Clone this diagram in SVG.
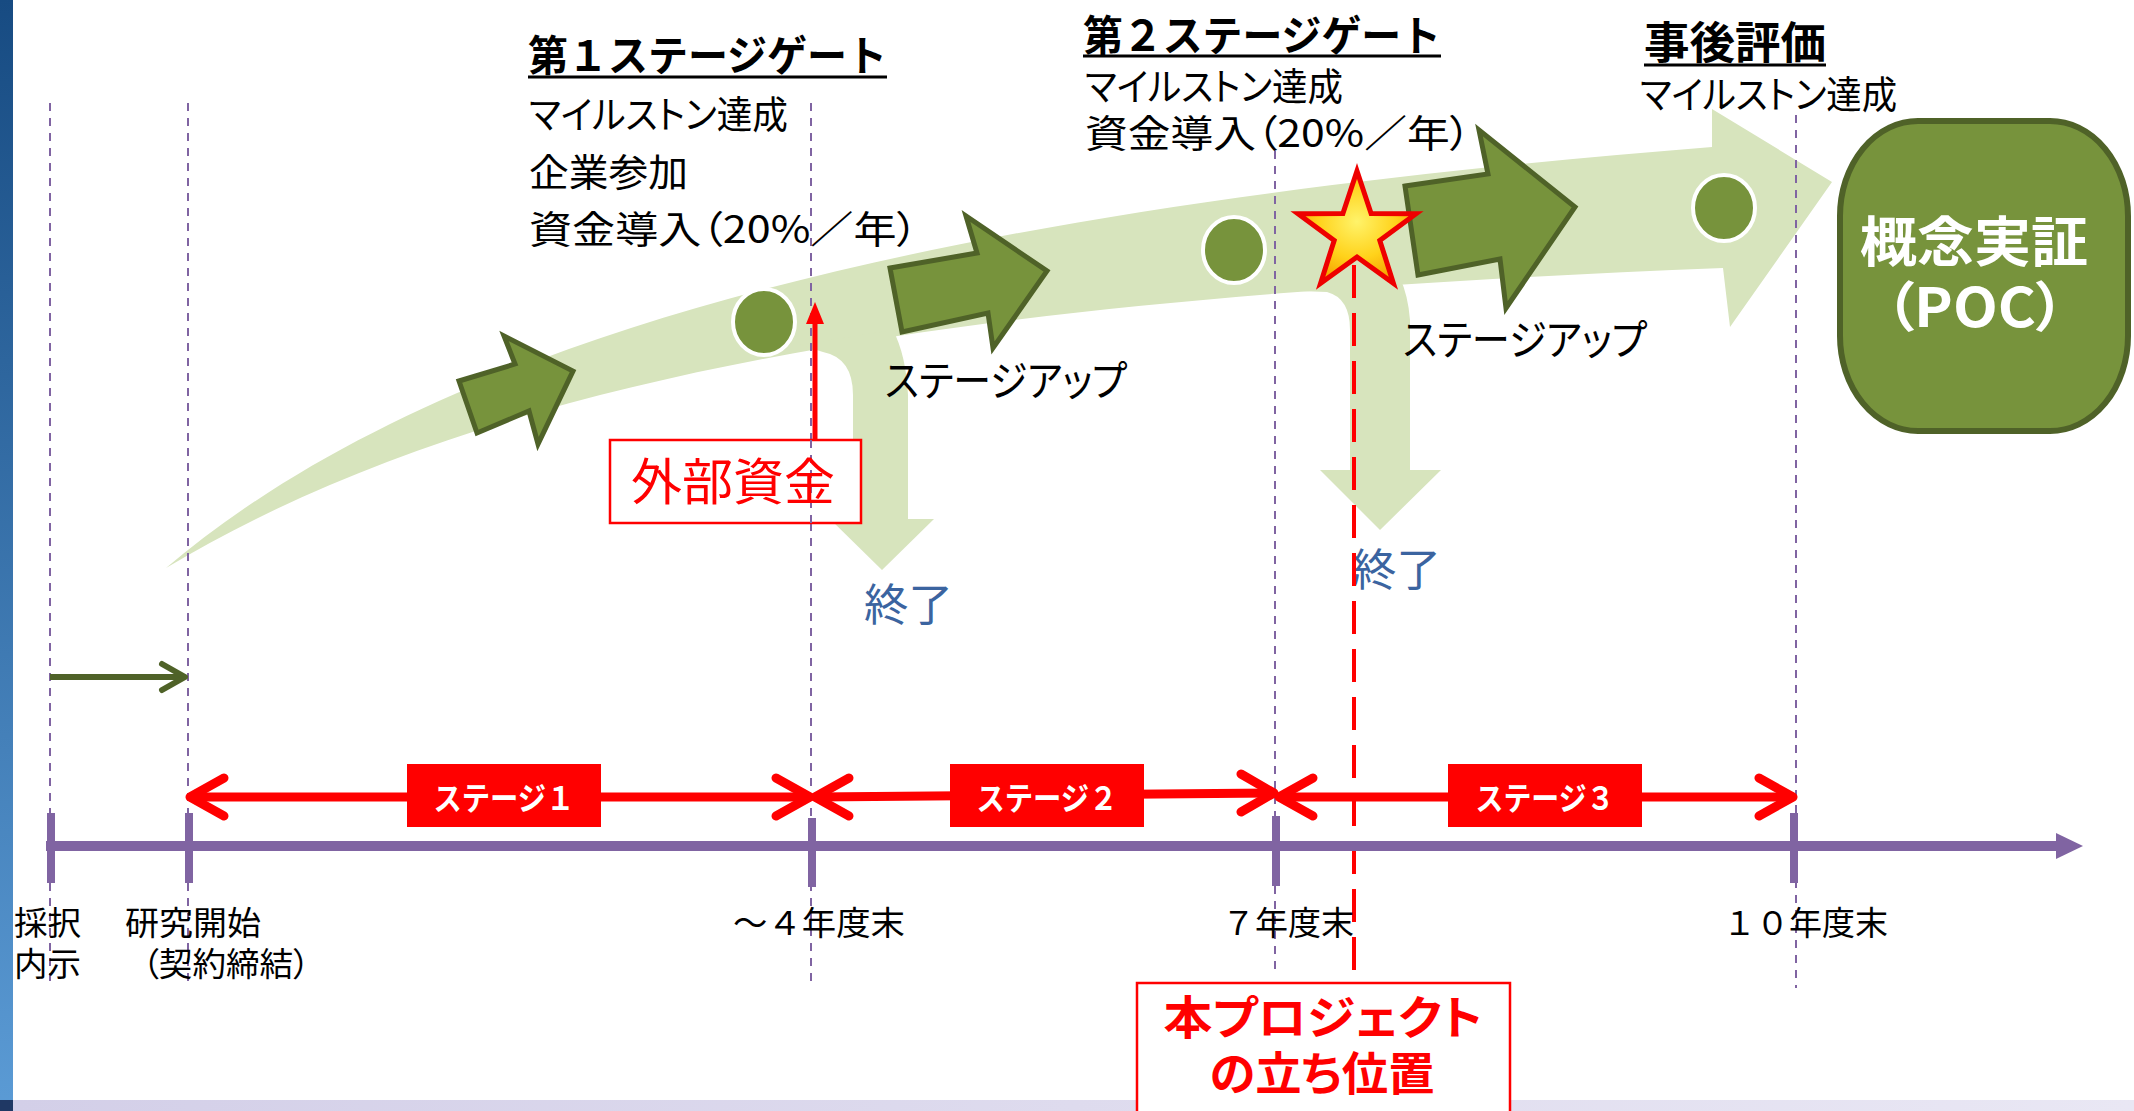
<svg xmlns="http://www.w3.org/2000/svg" width="2134" height="1111" viewBox="0 0 2134 1111">
<defs>
<linearGradient id="leftbar" x1="0" y1="0" x2="0" y2="1">
<stop offset="0" stop-color="#174b82"/>
<stop offset="1" stop-color="#5b9bd5"/>
</linearGradient>
<linearGradient id="botstrip" x1="0" y1="0" x2="1" y2="0">
<stop offset="0" stop-color="#d3cfe8"/>
<stop offset="1" stop-color="#e9e7f4"/>
</linearGradient>
<radialGradient id="starfill" cx="0.5" cy="0.45" r="0.55">
<stop offset="0" stop-color="#fff36a"/>
<stop offset="0.6" stop-color="#ffd21a"/>
<stop offset="1" stop-color="#f5a300"/>
</radialGradient>
</defs>
<style>
.t{font-family:"Noto Sans CJK JP","Noto Sans",sans-serif;font-feature-settings:"palt";}
.w{font-family:"Noto Sans CJK JP","Noto Sans",sans-serif;}
.b{font-weight:bold;}
.blk{fill:#000;}
.vdash{stroke:#8064a2;stroke-width:2;stroke-dasharray:8 7;fill:none;}
.tick{stroke:#8064a2;stroke-width:8;}
.band{fill:#d7e4bd;}
.darr{fill:#77933c;stroke:#4f6228;stroke-width:5;stroke-linejoin:miter;}
.dot{fill:#77933c;stroke:#ffffff;stroke-width:4;}
.stg{stroke:#ff0000;stroke-width:9;fill:none;stroke-linecap:round;stroke-linejoin:round;}
.stgbox{fill:#ff0000;}
.stgtxt{fill:#fff;font-size:32px;}
.lbl{font-size:33px;fill:#000;}
.desc{font-size:38px;fill:#000;}
.end{font-size:44px;fill:#3b64a0;}
.ul{stroke:#000;stroke-width:3;}
</style>

<rect x="0" y="0" width="2134" height="1111" fill="#ffffff"/>
<rect x="0" y="0" width="13" height="1111" fill="url(#leftbar)"/>
<rect x="13" y="1100" width="2121" height="11" fill="url(#botstrip)"/>
<rect x="0" y="1100" width="13" height="11" fill="#1f3864"/>

<g id="flow-band">
<path class="band" d="M166,568 C466,313 1012,203 1712,147 L1712,109 L1832,182 L1730,327 L1723,268 C1023,296 516,358 166,568 Z"/>
<path class="band" d="M800,345 L823,352 Q853,358 853,395 L853,519 L830,519 L882,570 L934,519 L908,519 L908,395 Q906,355 893,330 Z"/>
<path class="band" d="M1300,291 L1327,292 Q1350,298 1350,330 L1350,470 L1320,470 L1380,530 L1441,470 L1410,470 L1410,320 Q1408,295 1400,278 Z"/>
</g>

<g id="gridlines">
<line class="vdash" x1="50" y1="103" x2="50" y2="988"/>
<line class="vdash" x1="188" y1="103" x2="188" y2="988"/>
<line class="vdash" x1="811" y1="103" x2="811" y2="988"/>
<line class="vdash" x1="1275" y1="151" x2="1275" y2="976"/>
<line class="vdash" x1="1796" y1="115" x2="1796" y2="988"/>
</g>

<g id="stage-up-arrows">
<polygon class="darr" points="459,381 515,364 504,336 573,371 538,444 529,411 477,433"/>
<polygon class="darr" points="890,268 977,253 966,216 1047,271 993,348 988,313 902,332"/>
<polygon class="darr" points="1405,186 1488,174 1479,130 1575,207 1506,308 1500,259 1418,275"/>
</g>

<g id="milestones">
<ellipse class="dot" cx="764" cy="322" rx="31" ry="33"/>
<ellipse class="dot" cx="1234" cy="250" rx="31" ry="33"/>
<ellipse class="dot" cx="1724" cy="208" rx="31" ry="33"/>
</g>

<g id="poc">
<rect x="1840" y="121" width="288" height="310" rx="78" ry="95" fill="#77933c" stroke="#4f6228" stroke-width="6"/>
<text class="t b" font-size="54" fill="#fff" text-anchor="middle"><tspan x="1974" y="262" textLength="228" lengthAdjust="spacingAndGlyphs">概念実証</tspan><tspan x="1975" y="327" textLength="180" lengthAdjust="spacingAndGlyphs">（POC）</tspan></text>
</g>

<g id="gate1">
<text class="w b blk" x="528" y="71" font-size="42" textLength="359" lengthAdjust="spacingAndGlyphs">第１ステージゲート</text>
<line class="ul" x1="528" y1="77" x2="887" y2="77"/>
<text class="t desc"><tspan x="529" y="128" textLength="259" lengthAdjust="spacingAndGlyphs">マイルストン達成</tspan><tspan x="529" y="186" textLength="159" lengthAdjust="spacingAndGlyphs">企業参加</tspan><tspan x="529" y="243" textLength="389" lengthAdjust="spacingAndGlyphs">資金導入（20%／年）</tspan></text>
</g>

<g id="gate2">
<text class="w b blk" x="1083" y="51" font-size="42" textLength="358" lengthAdjust="spacingAndGlyphs">第２ステージゲート</text>
<line class="ul" x1="1083" y1="56" x2="1441" y2="56"/>
<text class="t desc"><tspan x="1085" y="100" textLength="258" lengthAdjust="spacingAndGlyphs">マイルストン達成</tspan><tspan x="1085" y="147" textLength="386" lengthAdjust="spacingAndGlyphs">資金導入（20%／年）</tspan></text>
</g>

<g id="post-eval">
<text class="t b blk" x="1644" y="59" font-size="44" textLength="182" lengthAdjust="spacingAndGlyphs">事後評価</text>
<line class="ul" x1="1644" y1="65" x2="1826" y2="65"/>
<text class="t desc" x="1640" y="108" textLength="257" lengthAdjust="spacingAndGlyphs">マイルストン達成</text>
</g>

<g id="stageup-labels">
<text class="t blk" x="885" y="396" font-size="42" textLength="242" lengthAdjust="spacingAndGlyphs">ステージアップ</text>
<text class="t blk" x="1403" y="355" font-size="42" textLength="244" lengthAdjust="spacingAndGlyphs">ステージアップ</text>
</g>

<g id="end-labels">
<text class="t end" x="864" y="621" textLength="89" lengthAdjust="spacingAndGlyphs">終了</text>
<text class="t end" x="1352" y="586" textLength="89" lengthAdjust="spacingAndGlyphs">終了</text>
</g>

<g id="external-fund">
<rect x="610" y="440" width="251" height="83" fill="#fff" stroke="#ff0000" stroke-width="2.5"/>
<line x1="811" y1="440" x2="811" y2="523" class="vdash"/>
<text class="t" x="631" y="500" font-size="50" fill="#ff0000" textLength="204" lengthAdjust="spacingAndGlyphs">外部資金</text>
</g>

<g id="connectors">
<line x1="815" y1="440" x2="815" y2="320" stroke="#ff0000" stroke-width="5"/>
<polygon points="806,324 815,302 824,324" fill="#ff0000"/>
<line x1="1354" y1="265" x2="1354" y2="982" stroke="#ff0000" stroke-width="4" stroke-dasharray="33 15"/>
<line x1="50" y1="677" x2="184" y2="677" stroke="#4f6228" stroke-width="6"/>
<polyline points="162,664 185,677 162,690" fill="none" stroke="#4f6228" stroke-width="6" stroke-linecap="round" stroke-linejoin="round"/>
<line class="stg" x1="191" y1="797" x2="809" y2="797"/>
<polyline class="stg" points="224,778 190,797 224,816"/>
<polyline class="stg" points="776,778 810,797 776,816"/>
<line class="stg" x1="816" y1="797" x2="1273" y2="793"/>
<polyline class="stg" points="849,778 815,797 849,816"/>
<polyline class="stg" points="1241,774 1274,793 1241,812"/>
<line class="stg" x1="1280" y1="797" x2="1792" y2="797"/>
<polyline class="stg" points="1313,778 1279,797 1313,816"/>
<polyline class="stg" points="1759,778 1793,797 1759,816"/>
</g>

<g id="star">
<path d="M1357,171 L1371.1,213.6 L1416,213.8 L1379.8,240.4 L1393.4,283.2 L1357,257 L1320.6,283.2 L1334.2,240.4 L1298,213.8 L1342.9,213.6 Z" fill="url(#starfill)" stroke="#ee0000" stroke-width="5" stroke-linejoin="miter"/>
</g>

<g id="stage1">
<rect class="stgbox" x="407" y="764" width="194" height="63"/>
<text class="w b stgtxt" x="504" y="810" text-anchor="middle" textLength="141" lengthAdjust="spacingAndGlyphs">ステージ１</text>
</g>
<g id="stage2">
<rect class="stgbox" x="950" y="764" width="194" height="63"/>
<text class="w b stgtxt" x="1047" y="810" text-anchor="middle" textLength="141" lengthAdjust="spacingAndGlyphs">ステージ２</text>
</g>
<g id="stage3">
<rect class="stgbox" x="1448" y="764" width="194" height="63"/>
<text class="w b stgtxt" x="1545" y="810" text-anchor="middle" textLength="139" lengthAdjust="spacingAndGlyphs">ステージ３</text>
</g>

<g id="timeline">
<line x1="46" y1="846" x2="2060" y2="846" stroke="#8064a2" stroke-width="10"/>
<polygon points="2056,833 2083,846 2056,859" fill="#8064a2"/>
<line class="tick" x1="51" y1="813" x2="51" y2="883"/>
<line class="tick" x1="189" y1="813" x2="189" y2="883"/>
<line class="tick" x1="812" y1="818" x2="812" y2="887"/>
<line class="tick" x1="1276" y1="816" x2="1276" y2="886"/>
<line class="tick" x1="1794" y1="813" x2="1794" y2="883"/>
</g>

<g id="timeline-labels">
<text class="w lbl"><tspan x="14" y="935" textLength="67" lengthAdjust="spacingAndGlyphs">採択</tspan><tspan x="14" y="976" textLength="67" lengthAdjust="spacingAndGlyphs">内示</tspan></text>
<text class="t lbl"><tspan x="125" y="935" textLength="136" lengthAdjust="spacingAndGlyphs">研究開始</tspan><tspan x="142" y="976" textLength="168" lengthAdjust="spacingAndGlyphs">（契約締結）</tspan></text>
<text class="w lbl" x="733" y="935" textLength="172" lengthAdjust="spacingAndGlyphs">～４年度末</text>
<text class="w lbl" x="1222" y="935" textLength="132" lengthAdjust="spacingAndGlyphs">７年度末</text>
<text class="w lbl" x="1723" y="935" textLength="165" lengthAdjust="spacingAndGlyphs">１０年度末</text>
</g>

<g id="position">
<rect x="1137" y="983" width="373" height="140" fill="#fff" stroke="#ff0000" stroke-width="2.5"/>
<text class="t b" font-size="46" fill="#ff0000" text-anchor="middle"><tspan x="1323" y="1034" textLength="319" lengthAdjust="spacingAndGlyphs">本プロジェクト</tspan><tspan x="1322" y="1090" textLength="225" lengthAdjust="spacingAndGlyphs">の立ち位置</tspan></text>
</g>
</svg>
